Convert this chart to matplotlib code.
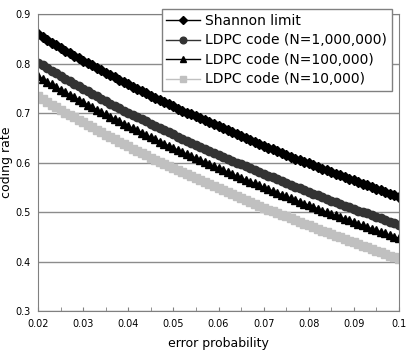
import matplotlib
matplotlib.use("Agg")
import matplotlib.pyplot as plt
from matplotlib.ticker import MultipleLocator

# error probability 0.020 ... 0.100
error_prob = [0.020, 0.021, 0.022, 0.023, 0.024, 0.025, 0.026, 0.027, 0.028, 0.029,
              0.030, 0.031, 0.032, 0.033, 0.034, 0.035, 0.036, 0.037, 0.038, 0.039,
              0.040, 0.041, 0.042, 0.043, 0.044, 0.045, 0.046, 0.047, 0.048, 0.049,
              0.050, 0.051, 0.052, 0.053, 0.054, 0.055, 0.056, 0.057, 0.058, 0.059,
              0.060, 0.061, 0.062, 0.063, 0.064, 0.065, 0.066, 0.067, 0.068, 0.069,
              0.070, 0.071, 0.072, 0.073, 0.074, 0.075, 0.076, 0.077, 0.078, 0.079,
              0.080, 0.081, 0.082, 0.083, 0.084, 0.085, 0.086, 0.087, 0.088, 0.089,
              0.090, 0.091, 0.092, 0.093, 0.094, 0.095, 0.096, 0.097, 0.098, 0.099, 0.100]

shannon = [0.859, 0.853, 0.847, 0.842, 0.837, 0.831, 0.826, 0.821, 0.816, 0.811,
           0.806, 0.801, 0.796, 0.791, 0.786, 0.781, 0.776, 0.772, 0.767, 0.762,
           0.758, 0.753, 0.749, 0.744, 0.740, 0.735, 0.731, 0.726, 0.722, 0.718,
           0.714, 0.709, 0.705, 0.701, 0.697, 0.693, 0.689, 0.685, 0.681, 0.677,
           0.673, 0.669, 0.665, 0.661, 0.657, 0.653, 0.649, 0.645, 0.642, 0.638,
           0.634, 0.630, 0.627, 0.623, 0.619, 0.616, 0.612, 0.608, 0.605, 0.601,
           0.598, 0.594, 0.591, 0.587, 0.584, 0.580, 0.577, 0.574, 0.570, 0.567,
           0.564, 0.560, 0.557, 0.554, 0.550, 0.547, 0.544, 0.541, 0.537, 0.534, 0.531]

ldpc_1m = [0.802, 0.796, 0.790, 0.785, 0.780, 0.774, 0.769, 0.764, 0.759, 0.754,
           0.749, 0.744, 0.739, 0.734, 0.729, 0.724, 0.719, 0.715, 0.710, 0.705,
           0.701, 0.696, 0.692, 0.687, 0.683, 0.678, 0.674, 0.669, 0.665, 0.661,
           0.657, 0.652, 0.648, 0.644, 0.640, 0.636, 0.632, 0.628, 0.624, 0.620,
           0.616, 0.612, 0.608, 0.604, 0.600, 0.596, 0.592, 0.588, 0.585, 0.581,
           0.577, 0.573, 0.570, 0.566, 0.562, 0.559, 0.555, 0.551, 0.548, 0.544,
           0.541, 0.537, 0.534, 0.530, 0.527, 0.523, 0.520, 0.517, 0.513, 0.510,
           0.507, 0.503, 0.500, 0.497, 0.493, 0.490, 0.487, 0.484, 0.480, 0.477, 0.474]

ldpc_100k = [0.775, 0.769, 0.763, 0.758, 0.753, 0.747, 0.742, 0.737, 0.732, 0.727,
             0.722, 0.717, 0.712, 0.707, 0.702, 0.697, 0.692, 0.688, 0.683, 0.678,
             0.674, 0.669, 0.665, 0.660, 0.656, 0.651, 0.647, 0.642, 0.638, 0.634,
             0.630, 0.625, 0.621, 0.617, 0.613, 0.609, 0.605, 0.601, 0.597, 0.593,
             0.589, 0.585, 0.581, 0.577, 0.573, 0.569, 0.565, 0.561, 0.558, 0.554,
             0.550, 0.546, 0.543, 0.539, 0.535, 0.532, 0.528, 0.524, 0.521, 0.517,
             0.514, 0.510, 0.507, 0.503, 0.500, 0.496, 0.493, 0.490, 0.486, 0.483,
             0.480, 0.476, 0.473, 0.470, 0.466, 0.463, 0.460, 0.457, 0.453, 0.450, 0.447]

ldpc_10k = [0.734, 0.728, 0.722, 0.717, 0.712, 0.706, 0.701, 0.696, 0.691, 0.686,
            0.681, 0.676, 0.671, 0.666, 0.661, 0.656, 0.651, 0.647, 0.642, 0.637,
            0.633, 0.628, 0.624, 0.619, 0.615, 0.610, 0.606, 0.601, 0.597, 0.593,
            0.589, 0.584, 0.580, 0.576, 0.572, 0.568, 0.564, 0.560, 0.556, 0.552,
            0.548, 0.544, 0.540, 0.536, 0.532, 0.528, 0.524, 0.520, 0.517, 0.513,
            0.509, 0.505, 0.502, 0.498, 0.494, 0.491, 0.487, 0.483, 0.480, 0.476,
            0.473, 0.469, 0.466, 0.462, 0.459, 0.455, 0.452, 0.449, 0.445, 0.442,
            0.439, 0.435, 0.432, 0.429, 0.425, 0.422, 0.419, 0.416, 0.412, 0.409, 0.406]

x_ticks = [0.02, 0.03, 0.04, 0.05, 0.06, 0.07, 0.08, 0.09, 0.1]
x_labels = ["0.02", "0.03", "0.04", "0.05", "0.06", "0.07", "0.08", "0.09", "0.1"]
y_ticks = [0.3, 0.4, 0.5, 0.6, 0.7, 0.8, 0.9]

fig = plt.figure(figsize=(4.07, 3.51), dpi=100)
ax = fig.add_axes([38 / 407, 1 - 311 / 351, 361 / 407, 297 / 351])

ax.plot(error_prob, shannon, color="black", marker="D", markersize=5.5, lw=1,
        label="Shannon limit")
ax.plot(error_prob, ldpc_1m, color="#333333", marker="o", markersize=6, lw=1,
        label="LDPC code (N=1,000,000)")
ax.plot(error_prob, ldpc_100k, color="black", marker="^", markersize=6, lw=1,
        label="LDPC code (N=100,000)")
ax.plot(error_prob, ldpc_10k, color="#c0c0c0", marker="s", markersize=5.5, lw=1,
        label="LDPC code (N=10,000)")

ax.set_xlim(0.02, 0.1)
ax.set_ylim(0.3, 0.9)
ax.set_xticks(x_ticks)
ax.set_xticklabels(x_labels, fontsize=7)
ax.xaxis.set_minor_locator(MultipleLocator(0.005))
ax.set_yticks(y_ticks)
ax.set_yticklabels([str(v) for v in y_ticks], fontsize=7)
ax.tick_params(axis="x", which="both", direction="in", length=3, color="#808080", pad=6)
ax.tick_params(axis="y", length=0, pad=5)
ax.grid(axis="y", color="#8c8c8c", lw=1)
ax.set_axisbelow(True)
for s in ax.spines.values():
    s.set_color("#808080")

ax.set_xlabel("error probability", fontsize=9)
ax.set_ylabel("coding rate", fontsize=9)
ax.xaxis.set_label_coords(0.5, (311 - 343) / 297)
ax.yaxis.set_label_coords((7 - 38) / 361, 0.5)
ax.xaxis.label.set_va("center")
ax.yaxis.label.set_va("center")

leg = ax.legend(loc="upper right", bbox_to_anchor=(399 / 407, 1 - 2 / 351),
                bbox_transform=fig.transFigure, fontsize=10, frameon=True,
                fancybox=False, edgecolor="#808080", framealpha=1,
                handlelength=2.4, markerscale=0.8, borderpad=0.35,
                labelspacing=0.4, handletextpad=0.4)
leg.get_frame().set_linewidth(1)

fig.savefig("out.png", dpi=100)
